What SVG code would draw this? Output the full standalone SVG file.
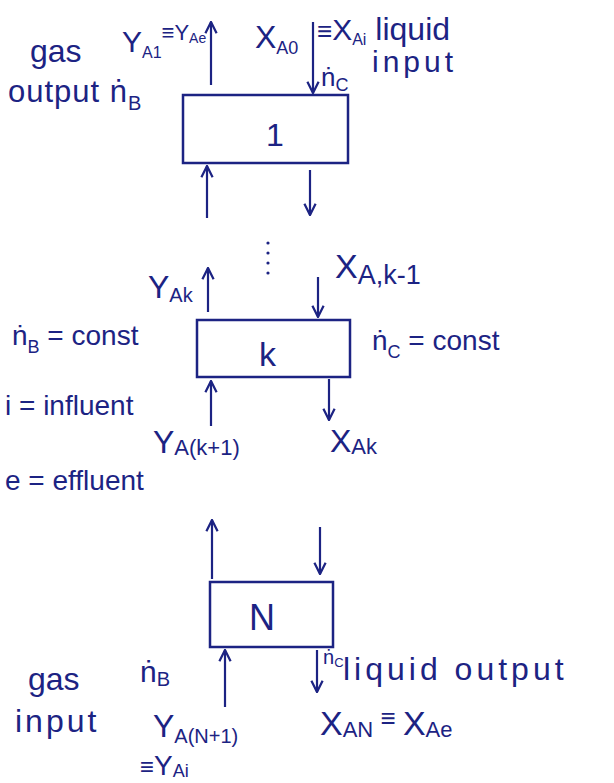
<svg xmlns="http://www.w3.org/2000/svg" width="614" height="783" viewBox="0 0 614 783">
<defs>
<style>
.t{font-family:"Liberation Sans","DejaVu Sans",sans-serif;fill:#1c2383;}
.box{fill:none;stroke:#1c2383;stroke-width:2.5;}
.ar{fill:none;stroke:#1c2383;stroke-width:2.2;marker-end:url(#ah);}
</style>
<marker id="ah" viewBox="0 0 10 10" refX="9" refY="5" markerWidth="14" markerHeight="14" markerUnits="userSpaceOnUse" orient="auto">
<path d="M1,1 L9,5 L1,9" fill="none" stroke="#1c2383" stroke-width="1.6"/>
</marker>
</defs>
<rect width="614" height="783" fill="#ffffff"/>

<g id="stage1">
<rect class="box" x="183" y="95" width="165" height="68"/>
<text class="t" x="266" y="146" font-size="32">1</text>
</g>

<g id="stagek">
<rect class="box" x="197" y="320" width="153" height="57"/>
<text class="t" x="259" y="366" font-size="34">k</text>
</g>

<g id="stageN">
<rect class="box" x="210" y="582" width="123" height="65"/>
<text class="t" x="249" y="630" font-size="36">N</text>
</g>

<g id="continuation">
<circle cx="268" cy="243" r="1.6" fill="#1c2383"/>
<circle cx="268" cy="253" r="1.6" fill="#1c2383"/>
<circle cx="268" cy="263" r="1.6" fill="#1c2383"/>
<circle cx="268" cy="273" r="1.6" fill="#1c2383"/>
</g>

<g id="connectors">
<line class="ar" x1="211" y1="85" x2="211" y2="22"/>
<line class="ar" x1="313" y1="22" x2="313" y2="93"/>
<line class="ar" x1="207" y1="218" x2="207" y2="166"/>
<line class="ar" x1="310" y1="170" x2="310" y2="215"/>
<line class="ar" x1="208" y1="312" x2="208" y2="268"/>
<line class="ar" x1="318" y1="277" x2="318" y2="317"/>
<line class="ar" x1="211" y1="426" x2="211" y2="381"/>
<line class="ar" x1="329" y1="379" x2="329" y2="420"/>
<line class="ar" x1="212" y1="579" x2="212" y2="520"/>
<line class="ar" x1="320" y1="527" x2="320" y2="574"/>
<line class="ar" x1="225" y1="707" x2="225" y2="650"/>
<line class="ar" x1="317" y1="650" x2="317" y2="692"/>
</g>

<g id="labels-top">
<text class="t" x="30" y="62" font-size="32">gas</text>
<text class="t" x="8" y="102" font-size="31" letter-spacing="1">output ṅ<tspan font-size="20" dy="8">B</tspan></text>
<text class="t" x="122" y="52" font-size="30">Y<tspan font-size="16" dy="6">A1</tspan><tspan font-size="22" dy="-18">≡Y</tspan><tspan font-size="14" dy="3">Ae</tspan></text>
<text class="t" x="255" y="48" font-size="32">X<tspan font-size="18" dy="6">A0</tspan></text>
<text class="t" x="317" y="40" font-size="26">≡<tspan font-size="30">X</tspan><tspan font-size="16" dy="5">Ai</tspan><tspan font-size="32" dy="-5"> liquid</tspan></text>
<text class="t" x="372" y="72" font-size="30" letter-spacing="4">input</text>
<text class="t" x="321" y="86" font-size="26">ṅ<tspan font-size="18" dy="5">C</tspan></text>
</g>

<g id="labels-k">
<text class="t" x="148" y="298" font-size="32">Y<tspan font-size="20" dy="4">Ak</tspan></text>
<text class="t" x="335" y="278" font-size="34">X<tspan font-size="27" dy="6">A,k-1</tspan></text>
<text class="t" x="12" y="345" font-size="28">ṅ<tspan font-size="18" dy="8">B</tspan><tspan dy="-8"> = const</tspan></text>
<text class="t" x="372" y="350" font-size="28">ṅ<tspan font-size="18" dy="8">C</tspan><tspan dy="-8"> = const</tspan></text>
<text class="t" x="5" y="415" font-size="28">i = influent</text>
<text class="t" x="153" y="453" font-size="32">Y<tspan font-size="22" dy="2">A(k+1)</tspan></text>
<text class="t" x="330" y="452" font-size="32">X<tspan font-size="22" dy="2">Ak</tspan></text>
<text class="t" x="5" y="490" font-size="28">e = effluent</text>
</g>

<g id="labels-N">
<text class="t" x="140" y="682" font-size="30">ṅ<tspan font-size="20" dy="4">B</tspan></text>
<text class="t" x="28" y="690" font-size="32">gas</text>
<text class="t" x="15" y="732" font-size="32" letter-spacing="3">input</text>
<text class="t" x="153" y="737" font-size="32">Y<tspan font-size="20" dy="6">A(N+1)</tspan></text>
<text class="t" x="140" y="775" font-size="24">≡<tspan font-size="28">Y</tspan><tspan font-size="18" dy="2">Ai</tspan></text>
<text class="t" x="323" y="664" font-size="20">ṅ<tspan font-size="13" dy="3">C</tspan></text>
<text class="t" x="343" y="680" font-size="32" letter-spacing="4">liquid output</text>
<text class="t" x="320" y="735" font-size="34">X<tspan font-size="22" dy="2">AN</tspan><tspan font-size="26" dy="-10"> ≡ </tspan><tspan font-size="34" dy="8">X</tspan><tspan font-size="22" dy="2">Ae</tspan></text>
</g>
</svg>
